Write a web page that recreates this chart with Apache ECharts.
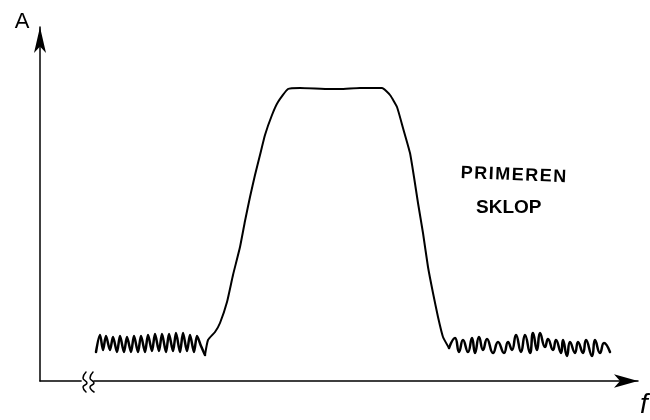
<!DOCTYPE html>
<html>
<head>
<meta charset="utf-8">
<style>
  html, body { margin: 0; background: #fff; }
  #main { width: 650px; height: 420px; }
</style>
<script src="https://cdn.jsdelivr.net/npm/echarts@6/dist/echarts.min.js"></script>
</head>
<body>
<div id="main"></div>
<script>
// noise floor left of the passband
var leftF = [56, 60, 63, 66, 70, 73, 77, 80, 84, 87, 91, 94, 98, 101, 105, 108, 112, 115, 119, 122, 126, 129, 133, 136, 140, 143, 147, 150, 154, 157, 161, 165];
var leftA = [29, 46, 31, 45, 31, 44, 29, 45, 29, 44, 29, 45, 29, 45, 29, 46, 30, 47, 30, 47, 29, 47, 30, 48, 29, 48, 30, 46, 29, 45, 35, 26];

// the passband itself
var bandF = [165, 168, 175, 180, 187, 193, 200, 205, 210, 215, 220, 225, 232, 238, 248, 260, 290, 300, 320, 342, 350, 357, 363, 370, 374, 378, 383, 388, 393, 398, 403, 409];
var bandA = [26, 41, 49, 58, 79, 106, 134, 160, 184, 206, 226, 246, 266, 279, 292, 293, 292, 292, 293, 293, 286, 274, 253, 228, 204, 178, 148, 114, 88, 64, 44, 33];

// noise floor right of the passband
var rightF = [409, 415, 419, 423, 428, 432, 435, 439, 443, 447, 453, 458, 464, 468, 472, 476, 481, 485, 490, 493, 497, 500, 505, 508, 513, 516, 521, 523, 527, 530, 535, 538, 543, 546, 552, 555, 560, 564, 570];
var rightA = [33, 43, 29, 41, 29, 43, 28, 44, 31, 42, 28, 39, 28, 39, 31, 46, 29, 46, 28, 48, 31, 48, 34, 42, 31, 41, 28, 41, 25, 39, 28, 39, 28, 41, 25, 41, 28, 38, 29];

// squiggles on the axis where it is broken
var breakF1 = [46, 43, 47, 43, 46];
var breakA1 = [9, 3, -2, -6, -11];
var breakF2 = [53, 50, 54, 50, 54];
var breakA2 = [9, 3, -2, -6, -11];
var gapF = [43, 52];
var gapA = [0, 0];

var axisMaxF = 598;
var axisMaxA = 354;

var handFont = '"Liberation Sans", sans-serif';

function pairs(xs, ys) {
  return xs.map(function (x, i) {
    return [x, ys[i]];
  });
}

function curve(name, xs, ys, width, color, smooth) {
  return {
    name: name,
    type: 'line',
    data: pairs(xs, ys),
    symbol: 'none',
    smooth: smooth,
    clip: false,
    lineStyle: { color: color, width: width, join: 'round', cap: 'round' }
  };
}

var myChart = echarts.init(document.getElementById('main'));

var option = {
  animation: false,
  backgroundColor: '#fff',
  grid: { left: 40, top: 27, right: 12, bottom: 39 },
  xAxis: {
    type: 'value',
    min: 0,
    max: axisMaxF,
    axisLine: {
      onZero: false,
      lineStyle: { color: '#000', width: 1.5 },
      symbol: ['none', 'arrow'],
      symbolSize: [10, 24]
    },
    axisTick: { show: false },
    axisLabel: { show: false },
    splitLine: { show: false }
  },
  yAxis: {
    type: 'value',
    min: 0,
    max: axisMaxA,
    name: 'A',
    nameLocation: 'end',
    nameGap: -6,
    nameTextStyle: {
      color: '#000',
      fontSize: 22,
      fontFamily: handFont,
      padding: [0, 36, 0, 0]
    },
    axisLine: {
      onZero: false,
      lineStyle: { color: '#000', width: 1.5 },
      symbol: ['none', 'arrow'],
      symbolSize: [9, 26]
    },
    axisTick: { show: false },
    axisLabel: { show: false },
    splitLine: { show: false }
  },
  graphic: [
    {
      type: 'text',
      x: 640,
      y: 391,
      style: { text: 'f', fill: '#000', font: 'italic 28px ' + handFont }
    },
    {
      type: 'text',
      x: 461,
      y: 164,
      rotation: -0.04,
      style: { text: 'P\u200AR\u200AI\u200AM\u200AE\u200AR\u200AE\u200AN', fill: '#000', font: 'bold 18px ' + handFont }
    },
    {
      type: 'text',
      x: 476,
      y: 198,
      style: { text: 'SKLOP', fill: '#000', font: 'bold 19px ' + handFont }
    }
  ],
  series: [
    curve('gap', gapF, gapA, 3, '#fff', false),
    curve('break1', breakF1, breakA1, 1.5, '#000', 0.5),
    curve('break2', breakF2, breakA2, 1.5, '#000', 0.5),
    curve('left', leftF, leftA, 2.5, '#000', 0.3),
    curve('band', bandF, bandA, 2, '#000', 0.15),
    curve('right', rightF, rightA, 2.5, '#000', 0.5)
  ]
};

myChart.setOption(option);
</script>
</body>
</html>
